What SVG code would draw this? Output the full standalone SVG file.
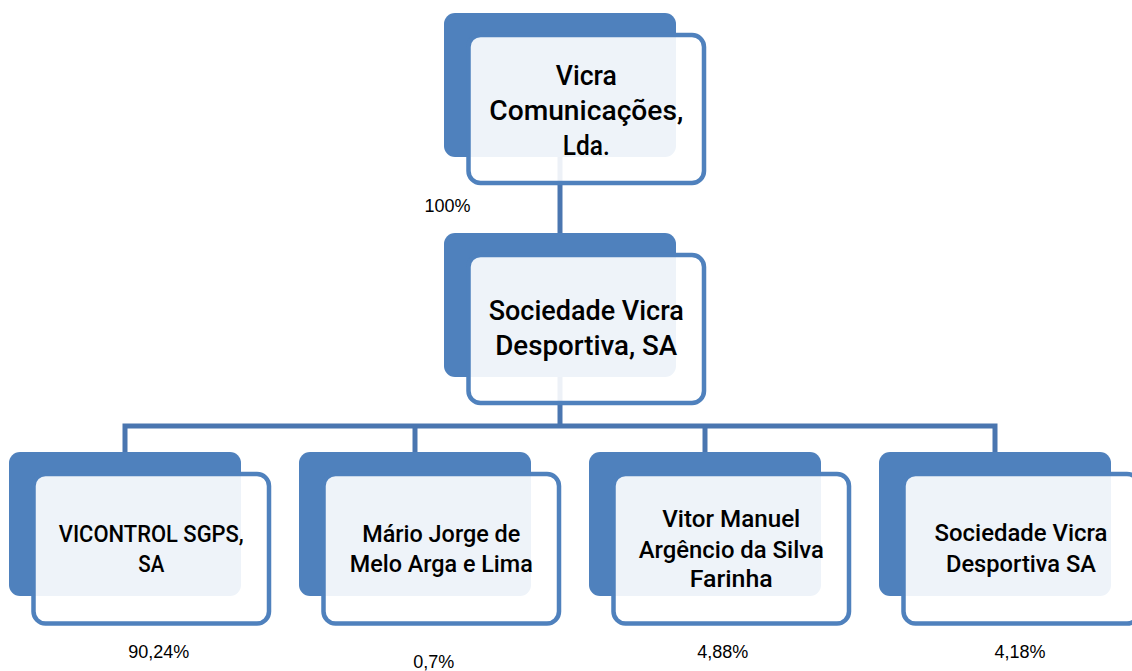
<svg xmlns="http://www.w3.org/2000/svg" width="1132" height="671" viewBox="0 0 1132 671">
<style>
.back{fill:#4F81BD;}
.front{fill:#FFFFFF;fill-opacity:0.9;stroke:#4F81BD;stroke-width:4.5;}
.conn{fill:none;stroke:#4A76B0;stroke-width:5;stroke-linejoin:miter;}
.t1{font-family:Roboto,"Liberation Sans",Arial,sans-serif;font-weight:500;font-size:28px;fill:#000;text-anchor:middle;}
.t2{font-family:Roboto,"Liberation Sans",Arial,sans-serif;font-weight:500;font-size:24px;fill:#000;text-anchor:middle;}
.pct{font-family:"Liberation Sans",Arial,sans-serif;font-size:18px;fill:#000;text-anchor:middle;}
</style>
<rect width="1132" height="671" fill="#FFFFFF"/>
<g id="connectors">
<path class="conn" d="M560 157 V233"/>
<path class="conn" d="M560 377 V426"/>
<path class="conn" d="M125 453 V426 H995 V453"/>
<path class="conn" d="M415 426 V453"/>
<path class="conn" d="M705 426 V453"/>
</g>
<g id="node-vicra-comunicacoes">
<rect class="back" x="444" y="13" width="232" height="144" rx="11"/>
<rect class="front" x="468.5" y="35" width="235.5" height="148" rx="12"/>
<text class="t1" x="586.25" y="85" textLength="61" lengthAdjust="spacingAndGlyphs">Vicra</text>
<text class="t1" x="586.25" y="120" textLength="194" lengthAdjust="spacingAndGlyphs">Comunicações,</text>
<text class="t1" x="586.25" y="155" textLength="47" lengthAdjust="spacingAndGlyphs">Lda.</text>
</g>
<g id="node-sociedade-vicra-desportiva">
<rect class="back" x="444" y="233" width="232" height="144" rx="11"/>
<rect class="front" x="468.5" y="255" width="235.5" height="148" rx="12"/>
<text class="t1" x="586.25" y="320" textLength="195" lengthAdjust="spacingAndGlyphs">Sociedade Vicra</text>
<text class="t1" x="586.25" y="355" textLength="182" lengthAdjust="spacingAndGlyphs">Desportiva, SA</text>
</g>
<g id="node-vicontrol">
<rect class="back" x="9" y="452" width="232" height="144" rx="11"/>
<rect class="front" x="33.5" y="474" width="235.5" height="149.5" rx="12"/>
<text class="t2" x="151.25" y="542" textLength="185" lengthAdjust="spacingAndGlyphs">VICONTROL SGPS,</text>
<text class="t2" x="151.25" y="572" textLength="26" lengthAdjust="spacingAndGlyphs">SA</text>
</g>
<g id="node-mario">
<rect class="back" x="299" y="452" width="232" height="144" rx="11"/>
<rect class="front" x="323.5" y="474" width="235.5" height="149.5" rx="12"/>
<text class="t2" x="441.25" y="542" textLength="158" lengthAdjust="spacingAndGlyphs">Mário Jorge de</text>
<text class="t2" x="441.25" y="572" textLength="183" lengthAdjust="spacingAndGlyphs">Melo Arga e Lima</text>
</g>
<g id="node-vitor">
<rect class="back" x="589" y="452" width="232" height="144" rx="11"/>
<rect class="front" x="613.5" y="474" width="235.5" height="149.5" rx="12"/>
<text class="t2" x="731.25" y="527" textLength="138" lengthAdjust="spacingAndGlyphs">Vitor Manuel</text>
<text class="t2" x="731.25" y="557.5" textLength="185" lengthAdjust="spacingAndGlyphs">Argêncio da Silva</text>
<text class="t2" x="731.25" y="587" textLength="83" lengthAdjust="spacingAndGlyphs">Farinha</text>
</g>
<g id="node-sociedade-vicra-desportiva-sa">
<rect class="back" x="879" y="452" width="232" height="144" rx="11"/>
<rect class="front" x="903.5" y="474" width="235.5" height="149.5" rx="12"/>
<text class="t2" x="1021" y="541" textLength="173" lengthAdjust="spacingAndGlyphs">Sociedade Vicra</text>
<text class="t2" x="1021" y="572" textLength="150" lengthAdjust="spacingAndGlyphs">Desportiva SA</text>
</g>
<g id="labels">
<text class="pct" x="447.5" y="212">100%</text>
<text class="pct" x="158.7" y="658">90,24%</text>
<text class="pct" x="433.7" y="667.5">0,7%</text>
<text class="pct" x="722.8" y="658">4,88%</text>
<text class="pct" x="1020" y="658">4,18%</text>
</g>
</svg>
